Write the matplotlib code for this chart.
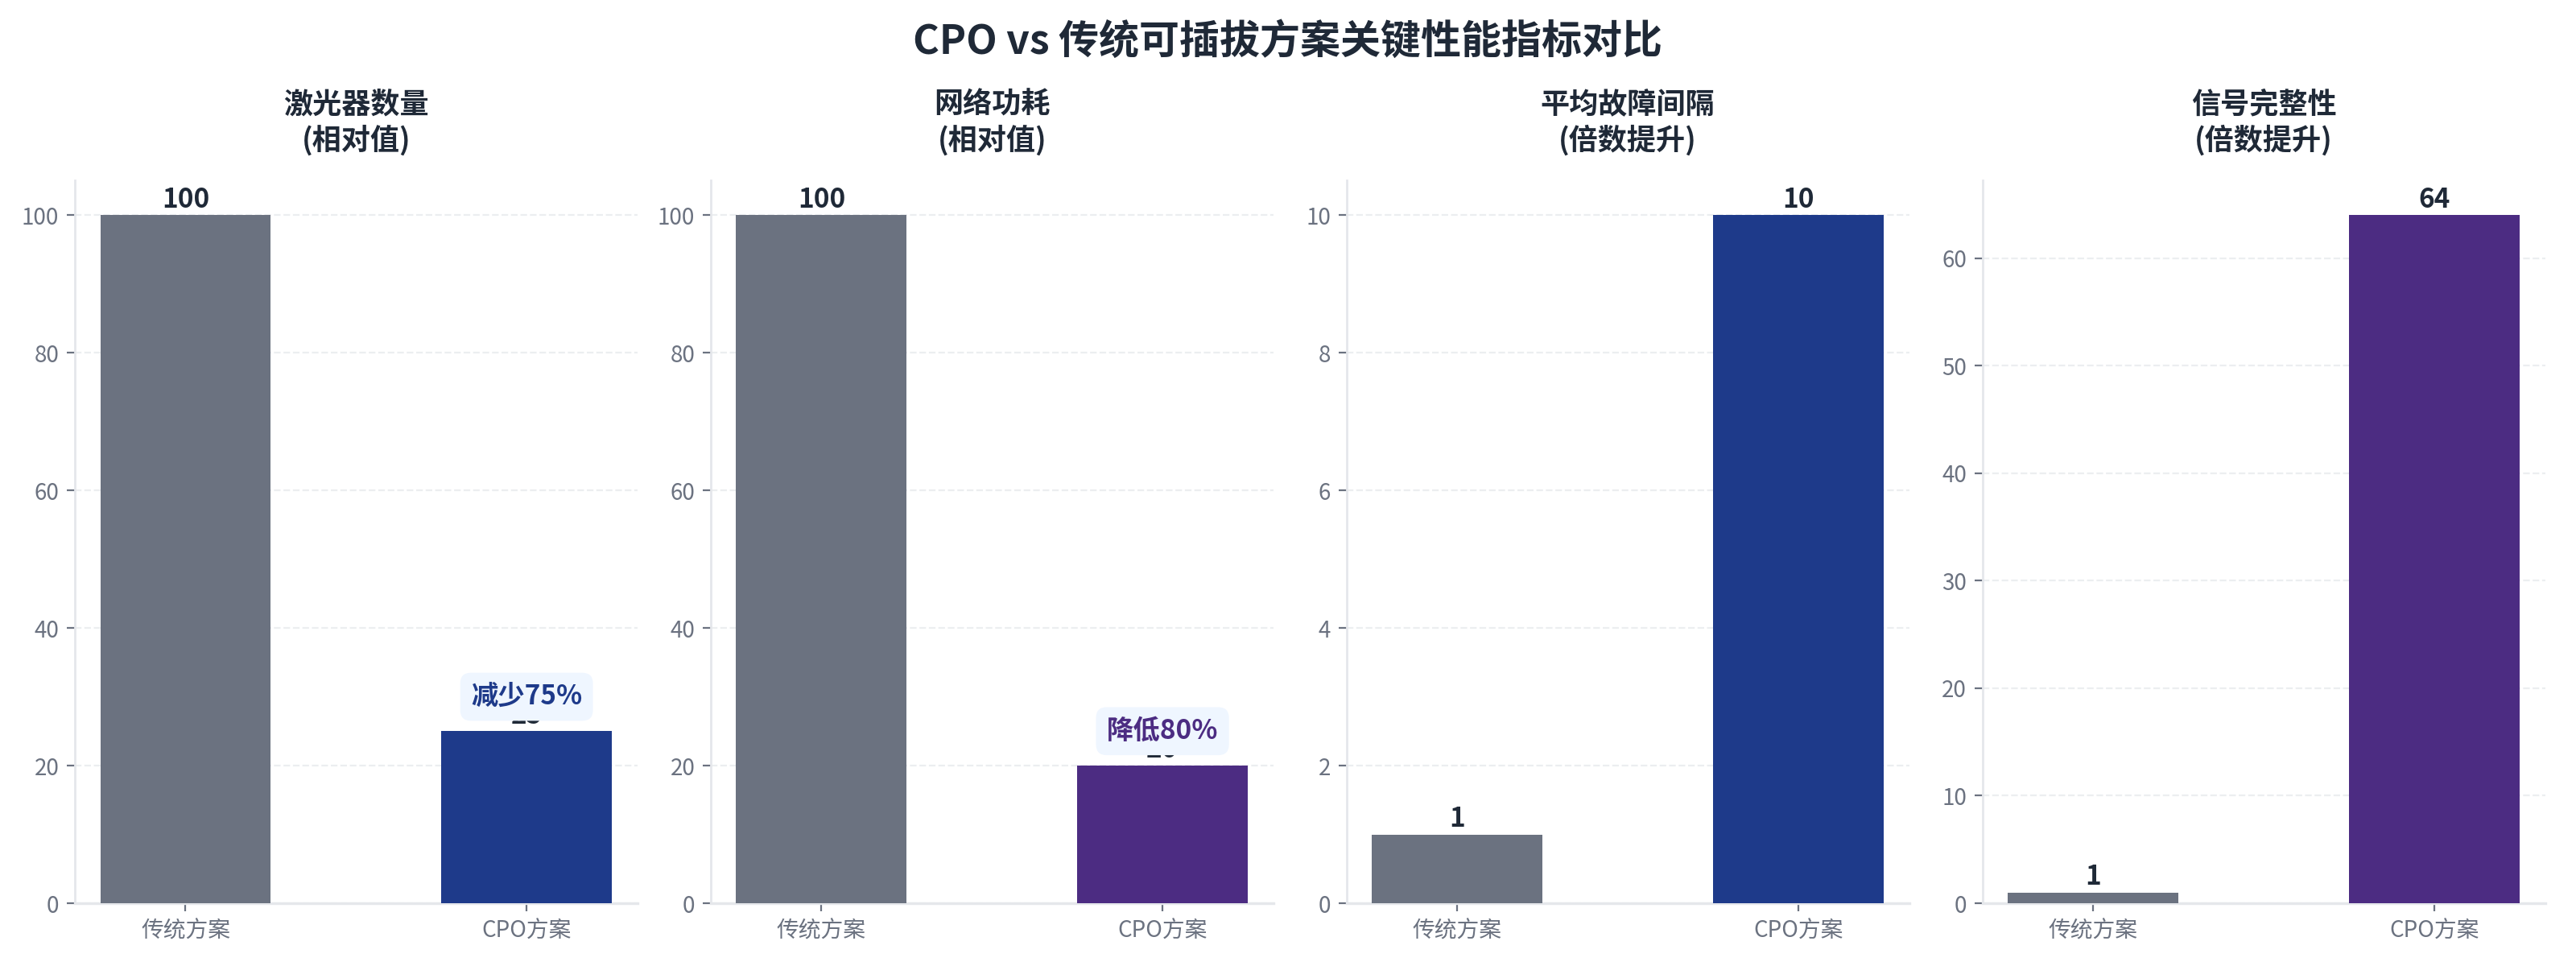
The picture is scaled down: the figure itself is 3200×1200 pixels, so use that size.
import matplotlib
matplotlib.use('Agg')
import matplotlib.pyplot as plt

plt.rcParams['font.family'] = ['Noto Sans CJK SC', 'DejaVu Sans']
plt.rcParams['axes.unicode_minus'] = False

# data
schemes = ['传统方案', 'CPO方案']
metric_titles = ['激光器数量\n(相对值)', '网络功耗\n(相对值)', '平均故障间隔\n(倍数提升)', '信号完整性\n(倍数提升)']
traditional_vals = [100, 100, 1, 1]
cpo_vals = [25, 20, 10, 64]
notes = ['减少75%', '降低80%', None, None]

GRAY = '#6b7280'
BLUE = '#1e3a8a'
PURPLE = '#4c2c82'
TEXT = '#1f2937'
cpo_colors = [BLUE, PURPLE, BLUE, PURPLE]

fig, axes = plt.subplots(1, 4, figsize=(16, 6), dpi=200)
fig.subplots_adjust(left=0.029, right=0.988, bottom=0.065, top=0.813, wspace=0.13)

for i, ax in enumerate(axes):
    vals = [traditional_vals[i], cpo_vals[i]]
    colors = [GRAY, cpo_colors[i]]
    ax.bar(range(len(schemes)), vals, width=0.5, color=colors, zorder=3)
    vmax = max(vals)
    ax.set_ylim(0, vmax * 1.05)

    for x, v in enumerate(vals):
        ax.text(x, v + vmax * 0.003, f'{v}', ha='center', va='bottom',
                fontsize=12, fontweight='bold', color=TEXT, zorder=4)

    # percentage note sits on top of the CPO bar label, as in the source
    if notes[i]:
        ax.text(1, cpo_vals[i] + vmax * 0.05, notes[i], ha='center', va='center',
                fontsize=12, fontweight='bold', color=cpo_colors[i], zorder=5,
                bbox=dict(boxstyle='round,pad=0.4', facecolor='#eff6ff', edgecolor='none'))

    ax.set_title(metric_titles[i], fontsize=13, fontweight='bold', color=TEXT, pad=14)
    ax.set_xticks(range(len(schemes)))
    ax.set_xticklabels(schemes)
    ax.tick_params(axis='both', labelsize=10, labelcolor=GRAY, color=GRAY)

    ax.spines['top'].set_visible(False)
    ax.spines['right'].set_visible(False)
    ax.spines['left'].set_color('#e5e7eb')
    ax.spines['bottom'].set_color('#e5e7eb')
    ax.spines['left'].set_linewidth(1.0)
    ax.spines['bottom'].set_linewidth(1.2)

    ax.yaxis.grid(True, linestyle='--', color='#e5e7eb', alpha=0.7, linewidth=0.8)
    ax.set_axisbelow(True)

fig.suptitle('CPO vs 传统可插拔方案关键性能指标对比', fontsize=18, fontweight='bold',
             color=TEXT, y=0.978)

fig.savefig('out.png', dpi=200, facecolor='white')
